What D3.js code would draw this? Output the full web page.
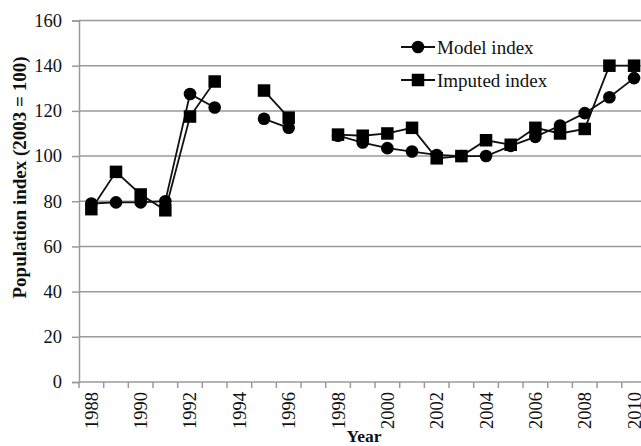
<!DOCTYPE html>
<html><head><meta charset="utf-8">
<script src="https://cdn.jsdelivr.net/npm/d3@7"></script>
<style>html,body{margin:0;padding:0;background:#fff;overflow:hidden}</style>
</head><body>
<svg id="chart" width="641" height="446"></svg>
<script>
const years = d3.range(1988, 2011).map(String);
const modelIndex = [79, 79.5, 79.5, 80, 127.5, 121.5, null, 116.5, 112.5, null, 109, 106, 103.5, 102, 100.5, 100, 100, 104.5, 108.5, 113.5, 119, 126, 134.5];
const imputedIndex = [76.5, 93, 83, 76, 117.5, 133, null, 129, 117, null, 109.5, 109, 110, 112.5, 99, 100, 107, 105, 112.5, 110, 112, 140, 140];
const yTicks = [0, 20, 40, 60, 80, 100, 120, 140, 160];
const xTickLabels = ["1988","1990","1992","1994","1996","1998","2000","2002","2004","2006","2008","2010"];
const seriesNames = ["Model index", "Imputed index"];

(function () {
const svg = d3.select("#chart");
const font = "'Liberation Serif','Times New Roman',serif";
const pL = 79, pR = 646.4, pT = 20.5, pB = 382;
const x = d3.scaleBand().domain(years).range([pL, pR]);
const y = d3.scaleLinear().domain([0, 160]).range([pB, pT]);
const grid = "#9a9a9a";

// gridlines
svg.append("g").selectAll("line").data(yTicks.filter(d => d > 0)).join("line")
  .attr("x1", pL).attr("x2", 641).attr("y1", d => y(d)).attr("y2", d => y(d))
  .attr("stroke", grid).attr("stroke-width", 1.5);

// y axis
const yAxis = svg.append("g").attr("transform", `translate(${pL},0)`)
  .call(d3.axisLeft(y).tickValues(yTicks).tickSize(7).tickPadding(10));
yAxis.select(".domain").attr("stroke", grid).attr("stroke-width", 1.5);
yAxis.selectAll(".tick line").attr("stroke", grid).attr("stroke-width", 1.5);
yAxis.selectAll("text").attr("font-family", font).attr("font-size", 18.5).attr("fill", "#111");

// x axis: ticks at band boundaries
const boundaries = years.map(d => x(d)).concat([pR]);
svg.append("line").attr("x1", pL).attr("x2", 641).attr("y1", pB).attr("y2", pB)
  .attr("stroke", grid).attr("stroke-width", 1.5);
svg.append("g").selectAll("line").data(boundaries).join("line")
  .attr("x1", d => d).attr("x2", d => d).attr("y1", pB).attr("y2", pB + 6)
  .attr("stroke", grid).attr("stroke-width", 1.5);
svg.append("g").selectAll("text").data(xTickLabels).join("text")
  .attr("transform", d => `translate(${x(d) + x.bandwidth() / 2},${pB + 10}) rotate(-90)`)
  .attr("text-anchor", "end").attr("dy", "0.35em")
  .attr("font-family", font).attr("font-size", 18.5).attr("fill", "#111")
  .text(d => d);

// axis titles
svg.append("text").attr("transform", `translate(19,177.5) rotate(-90)`)
  .attr("text-anchor", "middle").attr("dy", "0.35em")
  .attr("font-family", font).attr("font-weight", "bold").attr("font-size", 19).attr("fill", "#111")
  .text("Population index (2003 = 100)");
svg.append("text").attr("x", 364).attr("y", 442)
  .attr("text-anchor", "middle")
  .attr("font-family", font).attr("font-weight", "bold").attr("font-size", 17.5).attr("fill", "#111")
  .text("Year");

const cx = d => x(d) + x.bandwidth() / 2;
const line = vals => d3.line().defined((d, i) => vals[i] != null)
  .x((d, i) => cx(years[i])).y((d, i) => y(vals[i]))(vals);

// lines
svg.append("path").attr("d", line(imputedIndex)).attr("fill", "none").attr("stroke", "#111").attr("stroke-width", 1.8);
svg.append("path").attr("d", line(modelIndex)).attr("fill", "none").attr("stroke", "#111").attr("stroke-width", 1.8);

// markers
const sq = 12.5;
svg.append("g").selectAll("rect").data(years.map((d, i) => [d, imputedIndex[i]]).filter(d => d[1] != null)).join("rect")
  .attr("x", d => cx(d[0]) - sq / 2).attr("y", d => y(d[1]) - sq / 2)
  .attr("width", sq).attr("height", sq).attr("fill", "#000");
svg.append("g").selectAll("circle").data(years.map((d, i) => [d, modelIndex[i]]).filter(d => d[1] != null)).join("circle")
  .attr("cx", d => cx(d[0])).attr("cy", d => y(d[1])).attr("r", 6.3).attr("fill", "#000");

// legend
const lg = svg.append("g");
[47, 80].forEach((ly, i) => {
  lg.append("line").attr("x1", 401).attr("x2", 435).attr("y1", ly).attr("y2", ly).attr("stroke", "#111").attr("stroke-width", 1.8);
  if (i === 0) lg.append("circle").attr("cx", 418).attr("cy", ly).attr("r", 6.3).attr("fill", "#000");
  else lg.append("rect").attr("x", 418 - sq / 2).attr("y", ly - sq / 2).attr("width", sq).attr("height", sq).attr("fill", "#000");
  lg.append("text").attr("x", 437).attr("y", ly).attr("dy", "0.35em")
    .attr("font-family", font).attr("font-size", 19).attr("fill", "#111").text(seriesNames[i]);
});
})();
</script>
</body></html>
